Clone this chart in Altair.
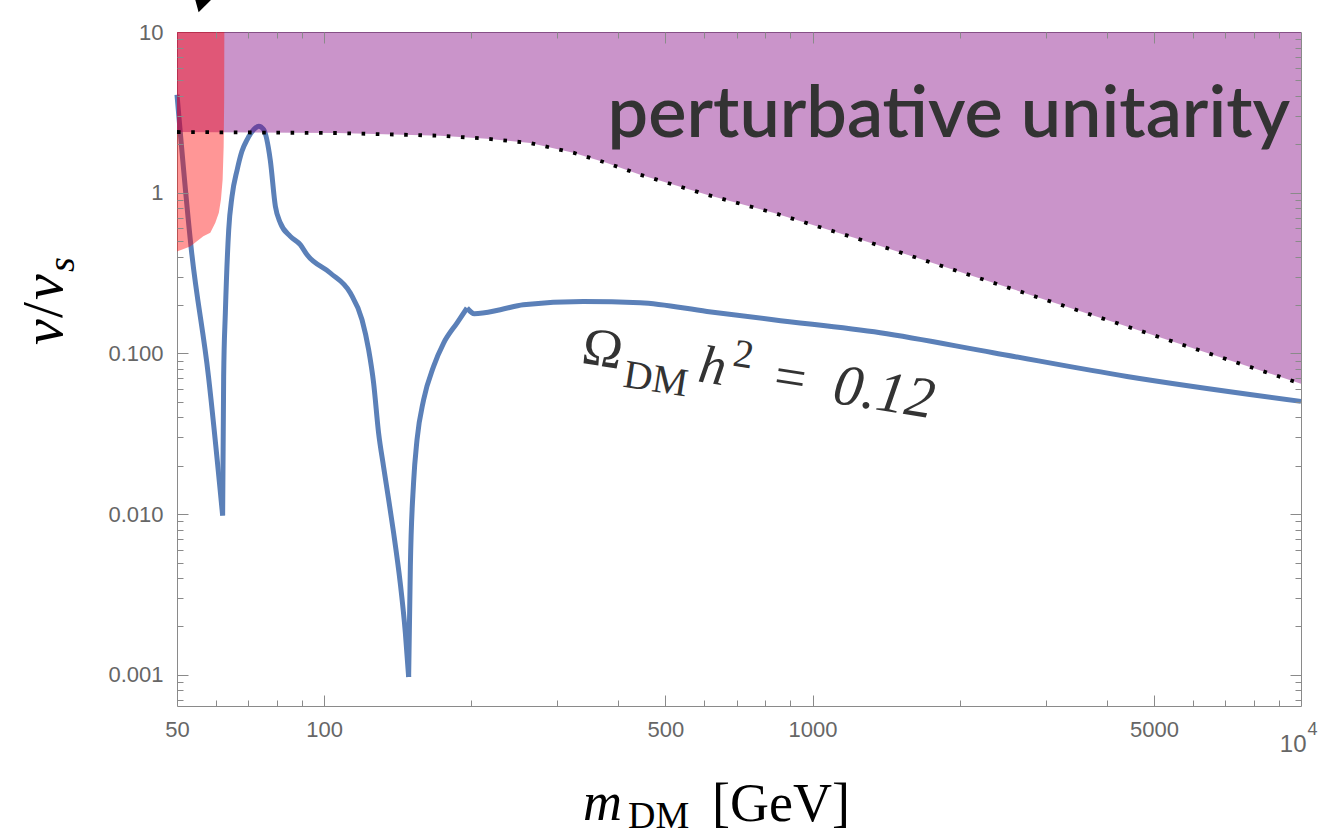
import altair as alt
import pandas as pd

# ---------------------------------------------------------------- data
# Omega_DM h^2 = 0.12 contour in the (m_DM, v/v_s) plane
m_relic = [50, 53.5, 58.0, 62.0, 62.3, 62.8, 63.8, 64.8, 66.4, 67.9, 69.6, 71.8,
           73.5, 75.2, 77.6, 79.5, 81.4, 85.3, 89.4, 92.3, 103.0, 113.2, 119.6,
           123.4, 126.3, 129.3, 132.4, 135.6, 138.8, 143.2, 146.7, 149.0, 150.2,
           152.5, 155.0, 159.9, 167.6, 175.7, 187.1, 196.2, 203.1, 229.5, 255.8,
           339.4, 444.0, 608.1, 831.1, 1376, 2344, 4403, 10000]
v_relic = [4.07, 0.442, 0.0719, 0.0098, 0.072, 0.179, 0.588, 0.948, 1.39, 1.81,
           2.14, 2.47, 2.59, 2.47, 1.60, 0.822, 0.648, 0.535, 0.475, 0.411,
           0.3165, 0.2376, 0.162, 0.1054, 0.0657, 0.0321, 0.0197, 0.0123,
           0.00766, 0.00374, 0.00183, 0.00097, 0.00471, 0.0157, 0.0290, 0.0515,
           0.083, 0.116, 0.1546, 0.1917, 0.1767, 0.187, 0.201, 0.2107, 0.2068,
           0.1826, 0.162, 0.1345, 0.101, 0.0719, 0.0503]
# the curve has two sharp resonance dips and a kink; it is drawn as smooth
# pieces that meet at those points (indices into the lists above)
relic_breaks = [0, 3, 31, 39, 50]

# perturbative-unitarity bound (excluded above)
m_unit = [50, 106.3, 173.0, 215.6, 264.3, 323.7, 379.5, 444.0, 608.1, 831.1,
          1313, 2344, 4403, 10000]
v_unit = [2.386, 2.352, 2.263, 2.168, 2.038, 1.774, 1.53, 1.294, 0.972, 0.751,
          0.489, 0.2754, 0.1472, 0.0648]

# Higgs invisible-decay exclusion below m_h/2 (lower edge, excluded above)
m_inv = [50, 53.2, 56.6, 58.5, 59.9, 60.9, 61.5, 62.0, 62.3, 62.45, 62.5]
v_inv = [0.431, 0.463, 0.535, 0.564, 0.651, 0.751, 0.904, 1.205, 1.94, 3.79, 10]

# axis ticks and labels
x_labels = [50, 100, 500, 1000, 5000]
x_major = [100, 500, 1000, 5000]
x_minor = [60, 70, 80, 90, 200, 300, 400, 600, 700, 800, 900,
           2000, 3000, 4000, 6000, 7000, 8000, 9000]
y_labels = [0.001, 0.01, 0.1, 1, 10]
y_major = [0.001, 0.01, 0.1, 1]
y_minor = [0.0007, 0.0008, 0.0009,
           0.002, 0.003, 0.004, 0.005, 0.006, 0.007, 0.008, 0.009,
           0.02, 0.03, 0.04, 0.05, 0.06, 0.07, 0.08, 0.09,
           0.2, 0.3, 0.4, 0.5, 0.6, 0.7, 0.8, 0.9,
           2, 3, 4, 5, 6, 7, 8, 9]

pieces = []
for seg, (a, b) in enumerate(zip(relic_breaks[:-1], relic_breaks[1:])):
    pieces.append(pd.DataFrame({"m": m_relic[a:b + 1], "v": v_relic[a:b + 1],
                                "seg": seg}))
relic = pd.concat(pieces, ignore_index=True)
unit = pd.DataFrame({"m": m_unit, "v": v_unit})
inv = pd.DataFrame({"m": m_inv, "v": v_inv})
pert_anchor = pd.DataFrame({"m": [9500], "v": [2.23]})
omega_anchor = pd.DataFrame({"m": [334.6], "v": [0.0875]})
arrow_tip = pd.DataFrame({"m": [56.1], "v": [15.4]})
one = pd.DataFrame({"k": [0]})

# ---------------------------------------------------------------- style
W, H = 1124, 674
SANS = "'Liberation Sans', Arial, sans-serif"
SERIF = "'Liberation Serif', 'Times New Roman', serif"
LATO = "Lato, 'Open Sans', sans-serif"
FRAME = "#8a8a8a"
LABEL = "#666666"
BLUE = "#5b80b8"
TXT = "#333333"

xs = alt.Scale(type="log", domain=[50, 10000], nice=False)
ys = alt.Scale(type="log", domain=[6.4e-4, 10], nice=False)


def X(axis):
    return alt.X("m:Q", scale=xs, axis=axis)


def Y(axis):
    return alt.Y("v:Q", scale=ys, axis=axis)


def tick_axis(orient, values, length):
    # ticks drawn inward from the frame
    return alt.Axis(orient=orient, values=values, tickSize=length, offset=-length,
                    labels=False, domain=False, grid=False, title=None,
                    tickColor=FRAME, tickWidth=1, zindex=1)


def label_axis(orient, values, expr, pad, size=22, align=None, offset=0):
    kw = dict(orient=orient, values=values, labelExpr=expr, ticks=False,
              domain=False, grid=False, title=None, labelFont=SANS,
              labelFontSize=size, labelColor=LABEL, labelPadding=pad,
              labelFlush=False, labelOverlap=False, labelOffset=offset)
    if align:
        kw["labelAlign"] = align
    return alt.Axis(**kw)


x_lab = label_axis("bottom", x_labels, "format(datum.value, 'd')", 13)
y_lab = label_axis("left", y_labels,
                   "datum.value >= 1 ? format(datum.value, 'd') : format(datum.value, '.3f')", 14)
x_ten = label_axis("bottom", [10000], "'10'", 26, size=24, align="right", offset=5)
x_four = label_axis("bottom", [10000], "'4'", 14, size=18, align="left", offset=6)

# ---------------------------------------------------------------- layers
relic_line = alt.Chart(relic).mark_line(
    color=BLUE, strokeWidth=5, interpolate="monotone", strokeCap="butt").encode(
    x=X(x_lab), y=Y(y_lab), detail="seg:N")

unit_fill = alt.Chart(unit).mark_area(color="#800080", opacity=0.42).encode(
    x=X(tick_axis("bottom", x_major, 11)), y=Y(tick_axis("left", y_major, 11)),
    y2=alt.datum(10))

inv_fill = alt.Chart(inv).mark_area(color="#ff0000", opacity=0.41).encode(
    x=X(tick_axis("bottom", x_minor, 6)), y=Y(tick_axis("left", y_minor, 6)),
    y2=alt.datum(10))

unit_edge = alt.Chart(unit).mark_line(color="black", strokeWidth=3.8,
                                      strokeDash=[3.6, 10.6], strokeCap="butt").encode(
    x=X(tick_axis("top", x_major, 11)), y=Y(tick_axis("right", y_major, 11)))

pert_text = alt.Chart(pert_anchor).mark_text(
    text="perturbative unitarity", align="right", baseline="alphabetic",
    font=LATO, fontSize=72, fontWeight=600, color=TXT).encode(
    x=X(tick_axis("top", x_minor, 6)), y=Y(tick_axis("right", y_minor, 6)))


def omega_piece(txt, dx, dy, size, style, xaxis=None):
    return alt.Chart(omega_anchor).mark_text(
        text=txt, align="left", baseline="alphabetic", angle=9, dx=dx, dy=dy,
        font=SERIF, fontSize=size, fontStyle=style, color=TXT).encode(
        x=X(xaxis), y=Y(None))


omega = [
    omega_piece("Ω", 0, 0, 54, "normal", x_ten),
    omega_piece("DM", 45, 17, 40, "normal", x_four),
    omega_piece("h", 118, 0, 54, "italic"),
    omega_piece("2", 150, -21, 40, "normal"),
    omega_piece("=", 194, 0, 56, "normal"),
    omega_piece("0.12", 254, 0, 58, "italic"),
]

arrow = alt.Chart(arrow_tip).mark_point(
    shape="triangle-down", size=625, angle=15, filled=True, color="black",
    opacity=1, strokeWidth=0).encode(x=X(None), y=Y(None))


def title_piece(txt, x, y, size, style, angle=0, dx=0, dy=0):
    return alt.Chart(one).mark_text(
        text=txt, align="left", baseline="alphabetic", font=SERIF,
        fontSize=size, fontStyle=style, color="black", angle=angle,
        dx=dx, dy=dy).encode(x=alt.value(x), y=alt.value(y))


titles = [
    # m_DM [GeV]
    title_piece("m", 406, 788, 54, "italic"),
    title_piece("DM", 451, 796, 38, "normal"),
    title_piece("[GeV]", 535, 789, 54, "normal"),
    # v / v_s
    title_piece("v", -115, 313, 58, "italic", angle=270, dx=0),
    title_piece("/", -115, 313, 58, "normal", angle=270, dx=27),
    title_piece("v", -115, 313, 58, "italic", angle=270, dx=45),
    title_piece("s", -115, 313, 38, "italic", angle=270, dx=73, dy=12),
]

chart = alt.layer(
    relic_line, unit_fill, inv_fill, unit_edge, pert_text, *omega, arrow, *titles
).resolve_scale(
    x="independent", y="independent"
).properties(
    width=W, height=H,
    autosize=alt.AutoSizeParams(type="none"),
    padding={"left": 177, "top": 32, "right": 23, "bottom": 134},
    background="white",
).configure_view(stroke=FRAME, strokeWidth=1)

chart.save("out.html", embed_options={"renderer": "svg", "actions": False})
